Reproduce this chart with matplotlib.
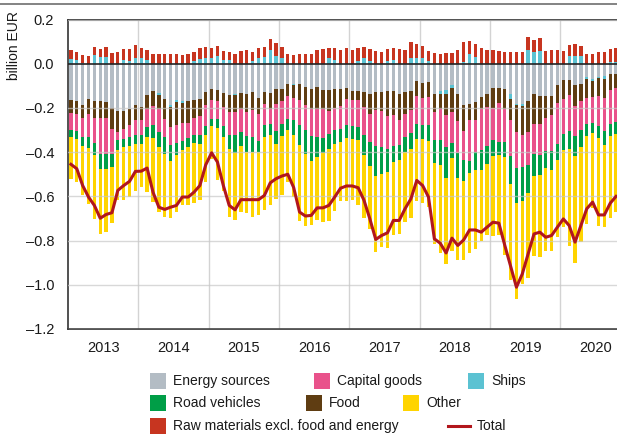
import matplotlib.pyplot as plt
import numpy as np
from matplotlib.lines import Line2D
from matplotlib.patches import Rectangle

# Monthly values, Jan 2013 - Oct 2020, billion EUR
YEARS = ["2013", "2014", "2015", "2016", "2017", "2018", "2019", "2020"]

energy_sources = [
    -0.165, -0.170, -0.185, -0.161, -0.167, -0.167, -0.173, -0.200, -0.214, -0.214, -0.206, -0.188,
    -0.197, -0.143, -0.125, -0.132, -0.158, -0.185, -0.165, -0.168, -0.167, -0.162, -0.161, -0.126,
    -0.116, -0.119, -0.132, -0.143, -0.135, -0.131, -0.137, -0.128, -0.153, -0.128, -0.131, -0.113,
    -0.116, -0.093, -0.090, -0.094, -0.105, -0.113, -0.106, -0.117, -0.117, -0.113, -0.113, -0.110,
    -0.122, -0.122, -0.128, -0.135, -0.128, -0.128, -0.125, -0.122, -0.138, -0.128, -0.122, -0.079,
    -0.088, -0.082, -0.137, -0.125, -0.120, -0.097, -0.138, -0.185, -0.181, -0.173, -0.149, -0.135,
    -0.108, -0.110, -0.113, -0.138, -0.181, -0.181, -0.170, -0.138, -0.147, -0.144, -0.146, -0.097,
    -0.075, -0.075, -0.097, -0.090, -0.061, -0.067, -0.060, -0.057, -0.045, -0.045,
]
ships = [
    0.023, 0.019, 0.005, 0.0, 0.039, 0.032, 0.029, 0.0, 0.0, 0.019, 0.011, 0.026,
    0.025, 0.019, 0.0, -0.008, 0.0, -0.012, -0.010, -0.008, 0.0, 0.011, 0.022, 0.028,
    0.025, 0.037, 0.016, 0.016, -0.008, 0.0, 0.0, 0.011, 0.028, 0.029, 0.061, 0.034,
    0.028, 0.0, -0.006, 0.0, 0.0, 0.0, 0.0, 0.0, 0.028, 0.019, 0.0, 0.0,
    0.0, 0.014, 0.026, 0.011, 0.0, 0.0, 0.011, 0.019, 0.0, 0.0, 0.025, 0.025,
    0.025, 0.011, 0.0, -0.014, -0.018, -0.015, 0.0, 0.008, 0.043, 0.031, 0.0, 0.0,
    0.0, 0.0, 0.0, -0.020, -0.008, -0.009, 0.061, 0.051, 0.057, 0.0, 0.0, 0.0,
    0.0, 0.035, 0.035, 0.035, -0.008, -0.011, -0.005, -0.011, 0.008, 0.008,
]
food = [
    -0.056, -0.059, -0.059, -0.068, -0.080, -0.080, -0.073, -0.097, -0.097, -0.083, -0.073, -0.065,
    -0.056, -0.063, -0.068, -0.063, -0.091, -0.089, -0.100, -0.091, -0.100, -0.082, -0.076, -0.062,
    -0.047, -0.051, -0.063, -0.077, -0.077, -0.073, -0.082, -0.083, -0.073, -0.056, -0.074, -0.069,
    -0.054, -0.054, -0.057, -0.071, -0.080, -0.091, -0.097, -0.086, -0.098, -0.088, -0.079, -0.051,
    -0.044, -0.044, -0.068, -0.094, -0.080, -0.085, -0.113, -0.112, -0.118, -0.098, -0.086, -0.068,
    -0.069, -0.068, -0.082, -0.065, -0.092, -0.106, -0.122, -0.121, -0.073, -0.080, -0.057, -0.060,
    -0.091, -0.066, -0.091, -0.098, -0.118, -0.131, -0.139, -0.136, -0.127, -0.101, -0.088, -0.080,
    -0.083, -0.068, -0.094, -0.080, -0.086, -0.073, -0.083, -0.088, -0.073, -0.065,
]
capital_goods = [
    -0.080, -0.076, -0.088, -0.103, -0.112, -0.163, -0.163, -0.110, -0.036, -0.042, -0.053, -0.068,
    -0.068, -0.080, -0.083, -0.106, -0.083, -0.083, -0.083, -0.083, -0.069, -0.077, -0.085, -0.094,
    -0.086, -0.080, -0.086, -0.101, -0.101, -0.103, -0.109, -0.121, -0.125, -0.095, -0.069, -0.121,
    -0.101, -0.101, -0.101, -0.110, -0.113, -0.125, -0.128, -0.131, -0.104, -0.101, -0.103, -0.118,
    -0.118, -0.121, -0.128, -0.125, -0.166, -0.165, -0.150, -0.140, -0.113, -0.106, -0.104, -0.124,
    -0.121, -0.128, -0.128, -0.140, -0.147, -0.140, -0.144, -0.131, -0.187, -0.147, -0.186, -0.178,
    -0.144, -0.178, -0.151, -0.162, -0.165, -0.148, -0.147, -0.136, -0.137, -0.151, -0.163, -0.184,
    -0.162, -0.162, -0.136, -0.131, -0.116, -0.116, -0.133, -0.150, -0.154, -0.154,
]
road_vehicles = [
    -0.032, -0.035, -0.042, -0.047, -0.056, -0.065, -0.068, -0.060, -0.044, -0.038, -0.041, -0.042,
    -0.044, -0.047, -0.062, -0.069, -0.077, -0.071, -0.056, -0.042, -0.039, -0.039, -0.042, -0.039,
    -0.035, -0.042, -0.051, -0.066, -0.083, -0.066, -0.073, -0.068, -0.048, -0.053, -0.050, -0.059,
    -0.056, -0.053, -0.068, -0.094, -0.109, -0.109, -0.091, -0.069, -0.065, -0.063, -0.060, -0.057,
    -0.056, -0.060, -0.088, -0.110, -0.136, -0.121, -0.100, -0.071, -0.068, -0.068, -0.073, -0.068,
    -0.063, -0.073, -0.103, -0.113, -0.140, -0.070, -0.113, -0.095, -0.054, -0.083, -0.088, -0.079,
    -0.073, -0.060, -0.068, -0.128, -0.160, -0.151, -0.130, -0.098, -0.091, -0.074, -0.082, -0.076,
    -0.069, -0.083, -0.092, -0.077, -0.056, -0.047, -0.053, -0.062, -0.053, -0.053,
]
other = [
    -0.187, -0.196, -0.218, -0.255, -0.287, -0.296, -0.282, -0.254, -0.225, -0.239, -0.231, -0.213,
    -0.193, -0.248, -0.289, -0.293, -0.285, -0.257, -0.257, -0.245, -0.266, -0.269, -0.252, -0.215,
    -0.147, -0.233, -0.243, -0.307, -0.302, -0.299, -0.275, -0.292, -0.287, -0.329, -0.317, -0.249,
    -0.266, -0.234, -0.279, -0.343, -0.329, -0.292, -0.284, -0.313, -0.328, -0.299, -0.267, -0.286,
    -0.276, -0.290, -0.285, -0.282, -0.343, -0.329, -0.347, -0.332, -0.335, -0.317, -0.313, -0.281,
    -0.289, -0.298, -0.366, -0.399, -0.388, -0.417, -0.373, -0.358, -0.361, -0.355, -0.323, -0.325,
    -0.363, -0.363, -0.443, -0.432, -0.434, -0.378, -0.384, -0.363, -0.373, -0.375, -0.367, -0.347,
    -0.350, -0.435, -0.483, -0.429, -0.397, -0.340, -0.400, -0.370, -0.373, -0.355,
]
raw_materials = [
    0.041, 0.033, 0.035, 0.037, 0.038, 0.036, 0.045, 0.049, 0.051, 0.048, 0.057, 0.060,
    0.048, 0.044, 0.043, 0.042, 0.042, 0.043, 0.046, 0.040, 0.042, 0.041, 0.047, 0.048,
    0.048, 0.044, 0.041, 0.038, 0.045, 0.057, 0.060, 0.042, 0.045, 0.047, 0.053, 0.060,
    0.048, 0.042, 0.039, 0.042, 0.046, 0.046, 0.061, 0.066, 0.045, 0.050, 0.061, 0.069,
    0.064, 0.059, 0.051, 0.057, 0.057, 0.054, 0.057, 0.050, 0.066, 0.064, 0.071, 0.066,
    0.054, 0.048, 0.049, 0.045, 0.049, 0.049, 0.063, 0.088, 0.059, 0.057, 0.069, 0.064,
    0.060, 0.057, 0.054, 0.054, 0.052, 0.052, 0.059, 0.056, 0.060, 0.058, 0.064, 0.060,
    0.057, 0.048, 0.054, 0.047, 0.045, 0.042, 0.052, 0.052, 0.060, 0.065,
]
total = [
    -0.455, -0.475, -0.551, -0.603, -0.641, -0.699, -0.682, -0.674, -0.573, -0.551, -0.532, -0.487,
    -0.486, -0.472, -0.581, -0.649, -0.659, -0.649, -0.641, -0.603, -0.603, -0.581, -0.551, -0.457,
    -0.403, -0.445, -0.551, -0.641, -0.661, -0.615, -0.615, -0.615, -0.615, -0.596, -0.539, -0.520,
    -0.508, -0.500, -0.560, -0.671, -0.689, -0.686, -0.652, -0.652, -0.641, -0.603, -0.563, -0.553,
    -0.553, -0.561, -0.618, -0.702, -0.795, -0.777, -0.765, -0.709, -0.709, -0.656, -0.611, -0.528,
    -0.551, -0.603, -0.792, -0.812, -0.856, -0.789, -0.822, -0.797, -0.752, -0.752, -0.762, -0.739,
    -0.717, -0.721, -0.820, -0.915, -1.011, -0.951, -0.860, -0.770, -0.762, -0.785, -0.777, -0.739,
    -0.702, -0.732, -0.807, -0.732, -0.656, -0.626, -0.684, -0.684, -0.631, -0.600,
]

ENERGY_C = "#b3bcc4"
CAPITAL_C = "#e9528b"
SHIPS_C = "#5bc2d2"
ROAD_C = "#009e47"
FOOD_C = "#5f3d12"
OTHER_C = "#ffd400"
RAW_C = "#c73520"
TOTAL_C = "#b2161c"

W, H = 617, 437
FS = 10


def fx(x: float) -> float:
    return x / W


def fy(y: float) -> float:
    return 1 - y / H


def main() -> None:
    plt.rcParams["font.family"] = ["Liberation Sans", "DejaVu Sans"]
    plt.rcParams["font.size"] = FS

    fig = plt.figure(figsize=(W / 100, H / 100), dpi=100)
    ax = fig.add_axes([fx(68), fy(329), 551 / W, 309.5 / H])

    n = len(total)
    x = np.arange(n) + 0.5
    width = 0.57

    # negative stack: energy, ships (if negative), food, capital, road, other
    neg_series = [
        (energy_sources, ENERGY_C),
        (ships, SHIPS_C),
        (food, FOOD_C),
        (capital_goods, CAPITAL_C),
        (road_vehicles, ROAD_C),
        (other, OTHER_C),
    ]
    bottom = np.zeros(n)
    for vals, color in neg_series:
        v = np.minimum(np.array(vals), 0)
        ax.bar(x, v, width, bottom=bottom, color=color, linewidth=0, zorder=2)
        bottom += v

    # positive stack: ships (if positive), raw materials
    bottom = np.zeros(n)
    for vals, color in [(ships, SHIPS_C), (raw_materials, RAW_C)]:
        v = np.maximum(np.array(vals), 0)
        ax.bar(x, v, width, bottom=bottom, color=color, linewidth=0, zorder=2)
        bottom += v

    ax.plot(x, total, color=TOTAL_C, lw=2.2, zorder=5, solid_joinstyle="round")

    ax.set_xlim(0, 94)
    ax.set_ylim(-1.2, 0.2)
    yticks = np.round(np.arange(-1.2, 0.21, 0.2), 1)
    ax.set_yticks(yticks)
    ax.set_yticklabels(
        ["0.0" if abs(t) < 1e-9 else f"{t:.1f}".replace("-", "\u2013") for t in yticks],
    )
    ax.set_xticks(np.arange(len(YEARS)) * 12 + 6)
    ax.set_xticklabels(YEARS)
    ax.tick_params(axis="both", length=0, labelsize=FS + 0.5, colors="#1a1a1a")
    ax.tick_params(axis="x", pad=9)
    ax.tick_params(axis="y", pad=10)

    for t in yticks:
        if abs(t) > 1e-9:
            ax.axhline(t, color="#c8c8c8", lw=1.0, alpha=0.7, zorder=3)
    for k in range(1, len(YEARS)):
        ax.axvline(12 * k, color="#c8c8c8", lw=1.0, alpha=0.8, zorder=1)
    ax.axhline(0, color="#222222", lw=1.2, zorder=4)

    for side in ("left", "bottom", "top"):
        ax.spines[side].set_color("#333333")
        ax.spines[side].set_linewidth(1.2)
    ax.spines["right"].set_visible(False)

    fig.text(fx(13.5), fy(11), "billion EUR", rotation=90, ha="center", va="top",
             fontsize=FS, color="#1a1a1a")
    fig.add_artist(Line2D([0, 1], [fy(4), fy(4)], color="#7a7a7a", lw=1.3))

    # legend, laid out like the original
    items = [
        ("Energy sources", ENERGY_C, 150, 381),
        ("Capital goods", CAPITAL_C, 314, 381),
        ("Ships", SHIPS_C, 468, 381),
        ("Road vehicles", ROAD_C, 150, 403),
        ("Food", FOOD_C, 306, 403),
        ("Other", OTHER_C, 403, 403),
        ("Raw materials excl. food and energy", RAW_C, 150, 426),
    ]
    for label, color, px, py in items:
        fig.add_artist(Rectangle((fx(px), fy(py + 8)), 16 / W, 16 / H,
                                 transform=fig.transFigure, color=color, lw=0))
        fig.text(fx(px + 23), fy(py), label, ha="left", va="center",
                 fontsize=FS, color="#1a1a1a")
    fig.add_artist(Line2D([fx(448), fx(470)], [fy(426), fy(426)],
                          color=TOTAL_C, lw=2.2))
    fig.text(fx(477), fy(426), "Total", ha="left", va="center",
             fontsize=FS, color="#1a1a1a")

    fig.savefig("out.png", dpi=100)
    plt.close(fig)


if __name__ == "__main__":
    main()
